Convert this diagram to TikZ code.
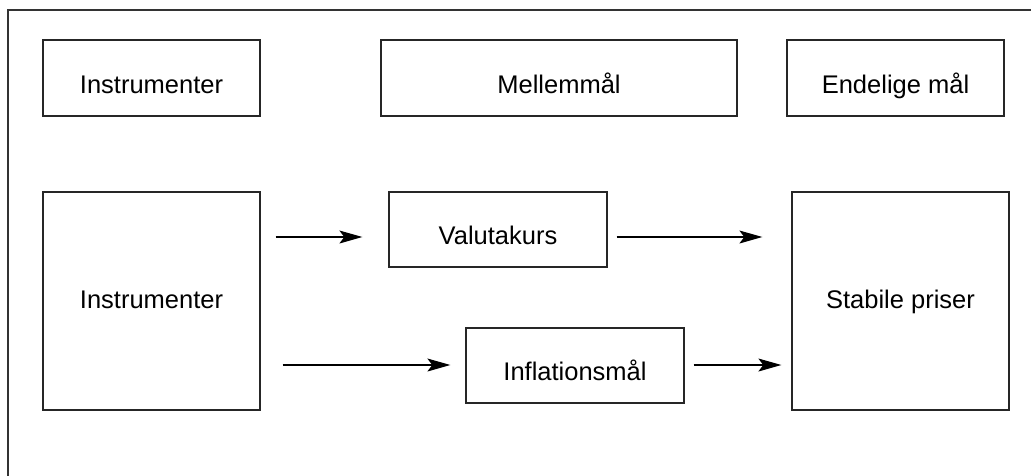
\documentclass[tikz,border=0pt]{standalone}
\usepackage{fontspec}
\setmainfont{Liberation Sans}
\usetikzlibrary{arrows.meta}
\begin{document}
\begin{tikzpicture}[x=1pt,y=-1pt,
  box/.style={draw=black!85,line width=1.3pt,rectangle,inner sep=0pt,
    font=\fontsize{25.5}{30}\selectfont,text height=32pt,text depth=2pt},
  bigbox/.style={box,text height=18pt,text depth=4pt},
  conn/.style={line width=1.1pt,-{Stealth[length=23pt,width=13pt,inset=5pt]}}]
\useasboundingbox (0,0) rectangle (1031,475);
\clip (0,0) rectangle (1031,475);
\fill[white] (0,0) rectangle (1031,475);
\draw[black!80,line width=1.3pt] (8,10) rectangle (1060,500);
\node[box,minimum width=217pt,minimum height=76pt] (h1) at (151.5,78) {Instrumenter};
\node[box,minimum width=356pt,minimum height=76pt] (h2) at (559,78) {Mellemmål};
\node[box,minimum width=217pt,minimum height=76pt] (h3) at (895.5,78) {Endelige mål};
\node[bigbox,minimum width=217pt,minimum height=218pt] (ins) at (151.5,301) {Instrumenter};
\node[box,minimum width=218pt,minimum height=75pt] (val) at (498,229.5) {Valutakurs};
\node[box,minimum width=218pt,minimum height=75pt] (inf) at (575,365.5) {Inflationsmål};
\node[bigbox,minimum width=217pt,minimum height=218pt] (sta) at (900.5,301) {Stabile priser};
\draw[conn,shorten <=15pt,shorten >=26pt] (ins.east |- 0,237) -- (val.west |- 0,237);
\draw[conn,shorten <=9pt,shorten >=29pt] (val.east |- 0,237) -- (sta.west |- 0,237);
\draw[conn,shorten <=22pt,shorten >=15pt] (ins.east |- 0,365) -- (inf.west |- 0,365);
\draw[conn,shorten <=9pt,shorten >=10pt] (inf.east |- 0,365) -- (sta.west |- 0,365);
\end{tikzpicture}
\end{document}
